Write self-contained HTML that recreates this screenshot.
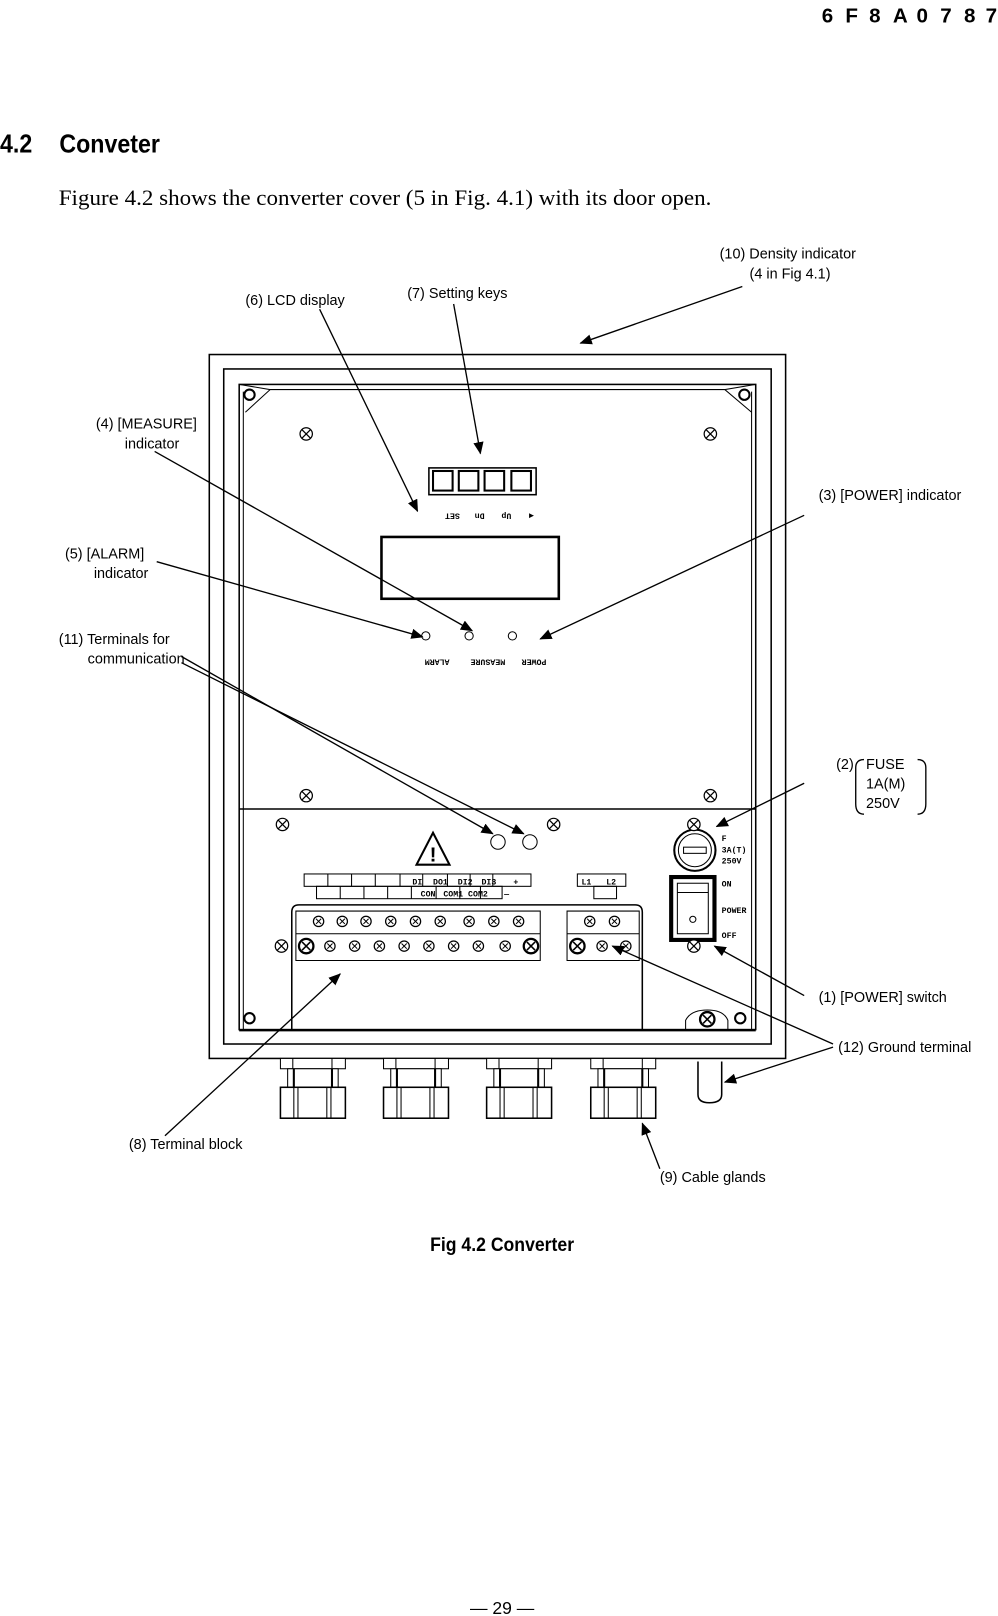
<!DOCTYPE html>
<html><head><meta charset="utf-8"><style>
html,body{margin:0;padding:0;background:#fff;}
svg{display:block;}
.s{font-family:"Liberation Sans",sans-serif;font-size:14px;fill:#000;}
.m{font-family:"Liberation Mono",monospace;font-weight:bold;fill:#000;}
</style></head><body>
<svg width="998" height="1616" viewBox="0 0 968 1568" preserveAspectRatio="none" xmlns="http://www.w3.org/2000/svg">
<defs>
<g id="sc"><circle r="6" fill="#fff" stroke="#000" stroke-width="1.2"/><path d="M-4,-4L4,4M-4,4L4,-4" stroke="#000" stroke-width="1.2"/></g>
<g id="ts"><circle r="5" fill="#fff" stroke="#000" stroke-width="1.2"/><path d="M-2.5,-2.5L2.5,2.5M-2.5,2.5L2.5,-2.5" stroke="#000" stroke-width="1"/></g>
<g id="tb"><circle r="7" fill="#fff" stroke="#000" stroke-width="2.2"/><path d="M-4,-4L4,4M-4,4L4,-4" stroke="#000" stroke-width="1.5"/></g>
<marker id="ar" viewBox="0 0 12 10" refX="11" refY="5" markerWidth="12" markerHeight="10" markerUnits="userSpaceOnUse" orient="auto"><path d="M0,0L12,5L0,10z" fill="#000"/></marker>
<g id="gl"><rect x="0" y="0" width="63" height="10" fill="#fff" stroke="#000"/><path d="M12,0V10M50,0V10" stroke="#000"/><rect x="7" y="10" width="49" height="18" fill="#fff" stroke="#000"/><path d="M13,10V28M50,10V28" stroke="#000" stroke-width="2"/><rect x="0" y="28" width="63" height="30" fill="#fff" stroke="#000" stroke-width="1.5"/><path d="M13,28V58M49,28V58M17,28V58M45,28V58" stroke="#000"/></g>
</defs>

<g font-family="Liberation Sans,sans-serif" font-weight="bold" font-size="20">
<text x="797" y="22">6</text><text x="820" y="22">F</text><text x="843" y="22">8</text><text x="866" y="22">A</text><text x="889" y="22">0</text><text x="912" y="22">7</text><text x="935" y="22">8</text><text x="956" y="22">7</text>
</g>
<text x="0" y="148" font-family="Liberation Sans,sans-serif" font-weight="bold" font-size="25" transform="scale(0.9,1)">4.2</text>
<text x="64" y="148" font-family="Liberation Sans,sans-serif" font-weight="bold" font-size="25" transform="scale(0.9,1)">Conveter</text>
<text x="57" y="199" font-family="Liberation Serif,serif" font-size="22" textLength="633" lengthAdjust="spacingAndGlyphs">Figure 4.2 shows the converter cover (5 in Fig. 4.1) with its door open.</text>

<g fill="none" stroke="#000">
<rect x="203" y="344" width="559" height="683" stroke-width="1.5"/>
<rect x="217" y="358" width="531" height="655" stroke-width="1.5"/>
<rect x="232" y="373" width="501" height="626" stroke-width="1.5"/>
<path d="M236,380V1000M729,380V1000M262,378H703" stroke-width="1"/>
<path d="M232,785H733" stroke-width="1.5"/>
<path d="M232,373L262,378L238,400M733,373L703,378L729,400" stroke-width="1"/>
<circle cx="242" cy="383" r="5" stroke-width="2"/><circle cx="722" cy="383" r="5" stroke-width="2"/>
<rect x="416" y="454" width="104" height="26" stroke-width="1.5"/>
<rect x="420" y="457" width="19" height="19" stroke-width="2"/><rect x="445" y="457" width="19" height="19" stroke-width="2"/><rect x="470" y="457" width="19" height="19" stroke-width="2"/><rect x="496" y="457" width="19" height="19" stroke-width="2"/>
<rect x="370" y="521" width="172" height="60" stroke-width="2.5"/>
<circle cx="413" cy="617" r="4"/><circle cx="455" cy="617" r="4"/><circle cx="497" cy="617" r="4"/>
<circle cx="483" cy="817" r="7"/><circle cx="514" cy="817" r="7"/>
<path d="M404,839L420,808L436,839Z" stroke-width="2"/>
<rect x="295" y="848" width="220" height="12"/><rect x="307" y="860" width="180" height="12"/>
<path d="M318,848V860M341,848V860M364,848V860M388,848V860M410,848V860M434,848V860M456,848V860M478,848V860M330,860V872M353,860V872M376,860V872M399,860V872M423,860V872M446,860V872M466,860V872"/>
<rect x="560" y="848" width="47" height="12"/><rect x="576" y="860" width="22" height="12"/>
<path d="M283,1000V885Q283,878 290,878H616Q623,878 623,885V1000" stroke-width="1.5"/>
<path d="M287,884H524V932H287Z M550,884H620V932H550Z"/>
<path d="M287,906H524M550,906H620"/>
<circle cx="674" cy="825" r="20" stroke-width="2"/><circle cx="674" cy="825" r="16"/>
<rect x="663" y="822" width="22" height="6"/>
<rect x="651" y="851" width="42" height="61" stroke-width="4"/><rect x="657" y="857" width="30" height="49"/>
<path d="M657,866H687" /><circle cx="672" cy="892" r="3"/>
<path d="M232,1000H733" stroke-width="1.5"/>
<path d="M677,1030V1062Q677,1070 688,1070Q700,1070 700,1062V1030" stroke-width="1.5"/>
<path d="M665,1000V990Q670,980 686,980Q702,980 706,990V1000"/>
</g>
<text x="420" y="836" font-family="Liberation Sans,sans-serif" font-weight="bold" font-size="20" text-anchor="middle">!</text>
<g font-family="Liberation Mono,monospace" font-size="8" font-weight="bold">
<text x="400" y="858">DI</text><text x="420" y="858">DO1</text><text x="444" y="858">DI2</text><text x="467" y="858">DI3</text><text x="498" y="858">+</text>
<text x="408" y="870">CON</text><text x="430" y="870">COM1</text><text x="454" y="870">COM2</text><text x="489" y="870">—</text>
<text x="564" y="858">L1</text><text x="588" y="858">L2</text>
<text x="700" y="816">F</text><text x="700" y="827">3A(T)</text><text x="700" y="838">250V</text>
<text x="700" y="860">ON</text><text x="700" y="886">POWER</text><text x="700" y="910">OFF</text>
</g>
<g font-family="Liberation Mono,monospace" font-size="8" font-weight="bold" transform="rotate(180 468 494)">
<text x="418" y="490">◀</text><text x="440" y="490">Up</text><text x="466" y="490">Dn</text><text x="490" y="490">SET</text>
</g>
<g font-family="Liberation Mono,monospace" font-size="8" font-weight="bold" transform="rotate(180 468 643)">
<text x="406" y="646">POWER</text><text x="446" y="646">MEASURE</text><text x="500" y="646">ALARM</text>
</g>
<use href="#sc" x="297" y="421"/><use href="#sc" x="689" y="421"/><use href="#sc" x="297" y="772"/><use href="#sc" x="689" y="772"/>
<use href="#sc" x="274" y="800"/><use href="#sc" x="537" y="800"/><use href="#sc" x="673" y="800"/><use href="#sc" x="673" y="918"/><use href="#sc" x="273" y="918"/>
<use href="#ts" x="309" y="894"/><use href="#ts" x="332" y="894"/><use href="#ts" x="355" y="894"/><use href="#ts" x="379" y="894"/><use href="#ts" x="403" y="894"/><use href="#ts" x="427" y="894"/><use href="#ts" x="455" y="894"/><use href="#ts" x="479" y="894"/><use href="#ts" x="503" y="894"/>
<use href="#tb" x="297" y="918"/><use href="#ts" x="320" y="918"/><use href="#ts" x="344" y="918"/><use href="#ts" x="368" y="918"/><use href="#ts" x="392" y="918"/><use href="#ts" x="416" y="918"/><use href="#ts" x="440" y="918"/><use href="#ts" x="464" y="918"/><use href="#ts" x="490" y="918"/><use href="#tb" x="515" y="918"/>
<use href="#ts" x="572" y="894"/><use href="#ts" x="596" y="894"/>
<use href="#tb" x="560" y="918"/><use href="#ts" x="584" y="918"/><use href="#ts" x="607" y="918"/>
<use href="#tb" x="686" y="989"/>
<g fill="none" stroke="#000" stroke-width="2"><circle cx="242" cy="988" r="5"/><circle cx="718" cy="988" r="5"/></g>
<use href="#gl" x="272" y="1027"/><use href="#gl" x="372" y="1027"/><use href="#gl" x="472" y="1027"/><use href="#gl" x="573" y="1027"/>

<g stroke="#000" stroke-width="1.3" fill="none" marker-end="url(#ar)">
<path d="M720,278L563,333"/>
<path d="M310,300L405,496"/>
<path d="M440,295L466,440"/>
<path d="M150,438L458,612"/>
<path d="M152,545L410,618"/>
<path d="M780,500L524,620"/>
<path d="M176,637L478,809"/>
<path d="M176,643L508,809"/>
<path d="M780,760L695,802"/>
<path d="M780,966L693,918"/>
<path d="M808,1013L594,918"/>
<path d="M808,1016L703,1050"/>
<path d="M160,1102L330,945"/>
<path d="M640,1134L623,1090"/>
</g>
<path d="M838,737Q830,737 830,745V780Q830,790 838,790M890,737Q898,737 898,745V780Q898,790 890,790" fill="none" stroke="#000" stroke-width="1.3"/>

<g class="s">
<text x="698" y="251">(10) Density indicator</text><text x="727" y="270">(4 in Fig 4.1)</text>
<text x="238" y="296">(6)   LCD display</text>
<text x="395" y="289">(7)   Setting keys</text>
<text x="93" y="416">(4)   [MEASURE]</text><text x="121" y="435">indicator</text>
<text x="794" y="485">(3)   [POWER] indicator</text>
<text x="63" y="542">(5)   [ALARM]</text><text x="91" y="561">indicator</text>
<text x="57" y="625">(11)  Terminals for</text><text x="85" y="644">communication</text>
<text x="811" y="746">(2)</text><text x="840" y="746">FUSE</text><text x="840" y="765">1A(M)</text><text x="840" y="784">250V</text>
<text x="794" y="972">(1)   [POWER] switch</text>
<text x="813" y="1021">(12) Ground terminal</text>
<text x="125" y="1115">(8)   Terminal block</text>
<text x="640" y="1147">(9)   Cable glands</text>
</g>
<text x="487" y="1214" font-family="Liberation Sans,sans-serif" font-weight="bold" font-size="19" text-anchor="middle" transform="translate(487,0) scale(0.9,1) translate(-487,0)">Fig 4.2  Converter</text>
<text x="487" y="1566" font-family="Liberation Sans,sans-serif" font-size="17" text-anchor="middle">—  29  —</text>
</svg>
</body></html>
